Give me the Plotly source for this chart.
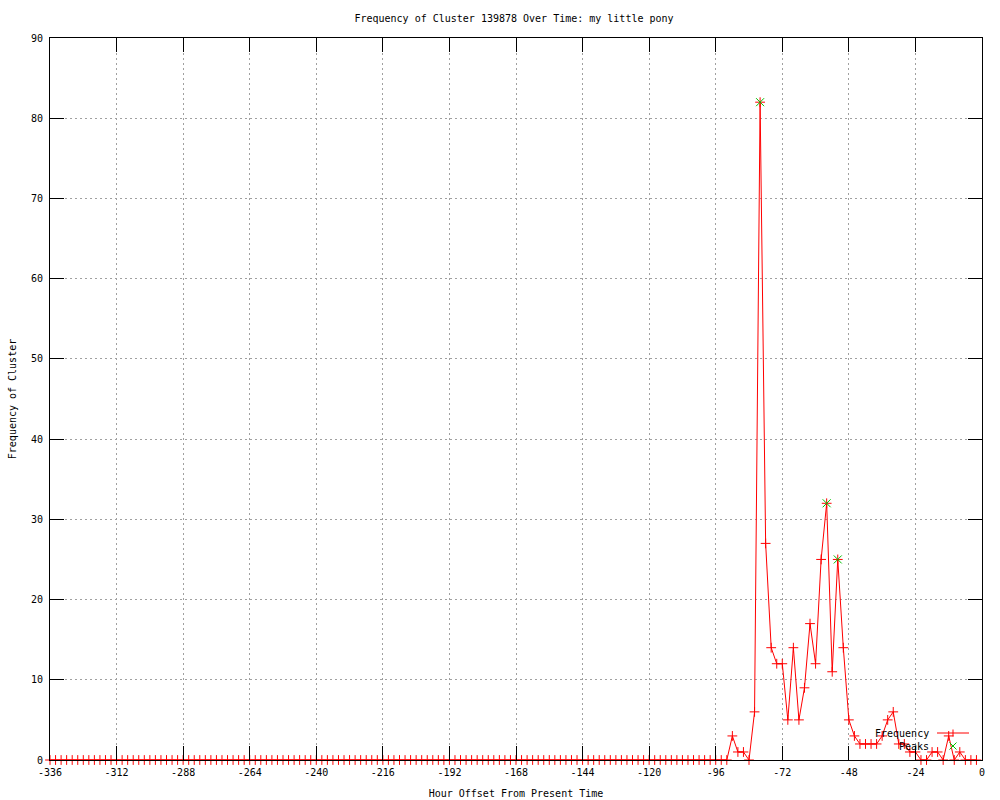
import plotly.graph_objects as go

# ---- data ----
zero_hours = list(range(-336, -90, 2))           # -336 ... -92, all zero
active_hours = [-90, -88, -86, -84, -82, -80, -78, -76, -74, -72, -70, -68, -66,
                -64, -62, -60, -58, -56, -54, -52, -50, -48, -46, -44, -42, -40,
                -38, -36, -34, -32, -30, -28, -26, -24, -22, -20, -18, -16, -14,
                -12, -10, -8, -6, -4, -2]
active_freq = [3, 1, 1, 0, 6, 82, 27, 14, 12, 12, 5, 14, 5,
               9, 17, 12, 25, 32, 11, 25, 14, 5, 3, 2, 2, 2,
               2, 3, 5, 6, 2, 2, 1, 1, 0, 0, 1, 1, 0,
               3, 0, 1, 0, 0, 0]
hours = zero_hours + active_hours
freq = [0] * len(zero_hours) + active_freq

peak_hours = [-80, -56, -52]
peak_freq = [82, 32, 25]

x_tick_vals = list(range(-336, 1, 24))
x_tick_text = [str(v) for v in x_tick_vals]
y_tick_vals = list(range(0, 91, 10))

title_text = "Frequency of Cluster 139878 Over Time: my little pony"
x_title = "Hour Offset From Present Time"
y_title = "Frequency of Cluster"

RED = "#ff0000"
GREEN = "#00c000"
FONT = "DejaVu Sans Mono"

fig = go.Figure()
fig.add_trace(go.Scatter(
    x=hours, y=freq, mode="lines+markers", name="Frequency",
    line=dict(color=RED, width=1),
    marker=dict(symbol="cross-thin", size=7, line=dict(color=RED, width=1)),
    cliponaxis=False, showlegend=False))
fig.add_trace(go.Scatter(
    x=peak_hours, y=peak_freq, mode="markers", name="Peaks",
    marker=dict(symbol="x-thin", size=8, line=dict(color=GREEN, width=1)),
    cliponaxis=False, showlegend=False))

# plot area in pixels
L, R, T, B = 50, 982, 38, 760
W, H = 1000, 800
def px(x):
    return (x - L) / (R - L)
def py(y):
    return (B - y) / (B - T)

shapes = []
# legend key: Frequency line + cross
shapes.append(dict(type="line", xref="paper", yref="paper",
                   x0=px(937), x1=px(969), y0=py(733), y1=py(733),
                   line=dict(color=RED, width=1)))
shapes.append(dict(type="line", xref="paper", yref="paper",
                   x0=px(953), x1=px(953), y0=py(729.5), y1=py(736.5),
                   line=dict(color=RED, width=1)))
# legend key: Peaks x
shapes.append(dict(type="line", xref="paper", yref="paper",
                   x0=px(949.5), x1=px(956.5), y0=py(742.5), y1=py(749.5),
                   line=dict(color=GREEN, width=1)))
shapes.append(dict(type="line", xref="paper", yref="paper",
                   x0=px(949.5), x1=px(956.5), y0=py(749.5), y1=py(742.5),
                   line=dict(color=GREEN, width=1)))

annotations = [
    dict(text="Frequency", xref="paper", yref="paper", x=px(931), y=py(733),
         xanchor="right", yanchor="middle", showarrow=False,
         font=dict(family=FONT, size=10, color="black")),
    dict(text="Peaks", xref="paper", yref="paper", x=px(931), y=py(746),
         xanchor="right", yanchor="middle", showarrow=False,
         font=dict(family=FONT, size=10, color="black")),
]

axis_common = dict(
    showline=True, linecolor="black", linewidth=1, mirror="ticks",
    ticks="inside", ticklen=14, tickcolor="black", tickwidth=1,
    showgrid=True, gridcolor="#a0a0a0", griddash="2px,3px", gridwidth=1,
    zeroline=False, automargin=False,
    tickfont=dict(family=FONT, size=10, color="black"),
)

fig.update_layout(
    width=W, height=H,
    margin=dict(l=L, r=W - R, t=T, b=H - B, pad=0),
    paper_bgcolor="white", plot_bgcolor="white",
    font=dict(family=FONT, size=10, color="black"),
    title=dict(text=title_text, x=0.514, xanchor="center", y=1 - 18 / H,
               yanchor="middle", font=dict(family=FONT, size=10, color="black")),
    xaxis=dict(range=[-336, 0], tickvals=x_tick_vals, ticktext=x_tick_text,
               ticklabelstandoff=3,
               title=dict(text=x_title, standoff=12,
                          font=dict(family=FONT, size=10, color="black")),
               **axis_common),
    yaxis=dict(range=[0, 90], tickvals=y_tick_vals, ticklabelstandoff=4,
               title=dict(text=y_title, standoff=12,
                          font=dict(family=FONT, size=10, color="black")),
               **axis_common),
    shapes=shapes, annotations=annotations, showlegend=False,
)

fig.write_html("out.html", config={"displayModeBar": False},
               post_script="document.body.style.margin='0';")
